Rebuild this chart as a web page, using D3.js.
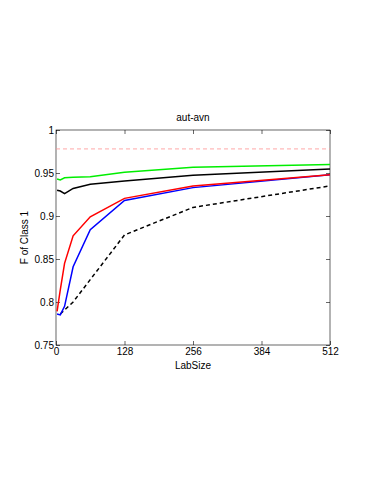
<!DOCTYPE html>
<meta charset="utf-8">
<style>
body { margin: 0; background: #fff; }
text { font-family: "Liberation Sans", Arial, sans-serif; font-size: 10px; fill: #000; }
.line { fill: none; stroke-width: 1.5px; }
</style>
<body>
<script src="https://d3js.org/d3.v7.min.js"></script>
<script>

// data
var labSize = [2, 8, 16, 32, 64, 128, 256, 512];
var greenVals = [0.943, 0.942, 0.9445, 0.945, 0.9457, 0.951, 0.9566, 0.960];
var blackVals = [0.930, 0.929, 0.926, 0.932, 0.937, 0.9407, 0.9475, 0.9547];
var redVals   = [0.789, 0.814, 0.845, 0.877, 0.899, 0.9205, 0.935, 0.948];
var blueVals  = [0.786, 0.785, 0.795, 0.841, 0.884, 0.918, 0.933, 0.948];
var dashX     = [8, 32, 64, 128, 256, 512];
var dashVals  = [0.786, 0.800, 0.826, 0.878, 0.910, 0.935];
var refLine = 0.978;
var xTicks = [0, 128, 256, 384, 512];
var yTicks = [0.75, 0.8, 0.85, 0.9, 0.95, 1];

var margin = {top: 130, left: 56},
    width = 274,
    height = 215;

var svg = d3.select("body").append("svg")
    .attr("width", 374)
    .attr("height", 484);

var g = svg.append("g")
    .attr("transform", "translate(" + margin.left + "," + margin.top + ")");

var x = d3.scaleLinear().domain([0, 512]).range([0, width]);
var y = d3.scaleLinear().domain([0.75, 1]).range([height, 0]);

// box
g.append("rect")
    .attr("width", width).attr("height", height)
    .attr("fill", "none").attr("stroke", "#000").attr("stroke-width", 0.6);

// ticks pointing inward on all sides
function tickStyle(sel) {
  sel.select(".domain").remove();
  sel.selectAll(".tick line").attr("stroke", "#000").attr("stroke-width", 0.6);
}
g.append("g").attr("transform", "translate(0," + height + ")")
    .call(d3.axisBottom(x).tickValues(xTicks).tickSizeInner(-4).tickPadding(3))
    .call(tickStyle)
    .selectAll("text").style("font-size", "10px").style("font-family", "Liberation Sans, Arial, sans-serif");
g.append("g")
    .call(d3.axisTop(x).tickValues(xTicks).tickSizeInner(-4).tickFormat(""))
    .call(tickStyle);
g.append("g")
    .call(d3.axisLeft(y).tickValues(yTicks).tickSizeInner(-4).tickPadding(2).tickFormat(d3.format("")))
    .call(tickStyle)
    .selectAll("text").style("font-size", "10px").style("font-family", "Liberation Sans, Arial, sans-serif");
g.append("g").attr("transform", "translate(" + width + ",0)")
    .call(d3.axisRight(y).tickValues(yTicks).tickSizeInner(-4).tickFormat(""))
    .call(tickStyle);

// reference dashed line
g.append("line")
    .attr("x1", 0).attr("x2", width)
    .attr("y1", y(refLine)).attr("y2", y(refLine))
    .attr("stroke", "#ff9090").attr("stroke-width", 0.8)
    .attr("stroke-dasharray", "4,3");

function drawLine(xs, ys, color, dash) {
  var data = xs.map(function(d, i) { return [d, ys[i]]; });
  var p = g.append("path")
      .datum(data)
      .attr("class", "line")
      .attr("stroke", color)
      .attr("d", d3.line().x(function(d) { return x(d[0]); }).y(function(d) { return y(d[1]); }));
  if (dash) p.attr("stroke-dasharray", dash);
}

drawLine(dashX, dashVals, "#000", "4,3");
drawLine(labSize, blueVals, "#0000ff");
drawLine(labSize, redVals, "#ff0000");
drawLine(labSize, blackVals, "#000");
drawLine(labSize, greenVals, "#00ee00");

// labels
svg.append("text")
    .attr("x", margin.left + width / 2).attr("y", 121)
    .attr("text-anchor", "middle").text("aut-avn");
svg.append("text")
    .attr("x", margin.left + width / 2).attr("y", 369)
    .attr("text-anchor", "middle").text("LabSize");
svg.append("text")
    .attr("transform", "translate(28," + (margin.top + height / 2) + ") rotate(-90)")
    .attr("text-anchor", "middle").text("F of Class 1");

</script>
</body>
